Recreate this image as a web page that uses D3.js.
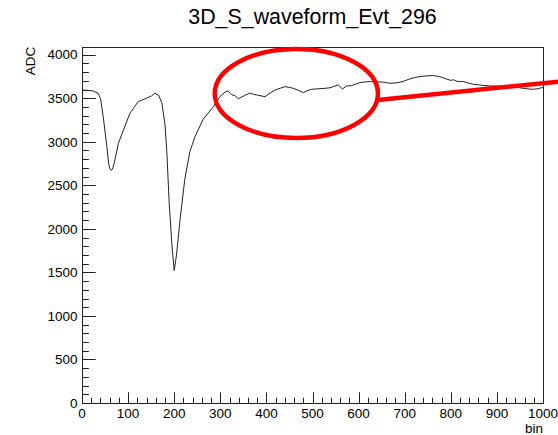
<!DOCTYPE html>
<html>
	<head>
		<meta charset="utf-8">
		<script src="https://cdnjs.cloudflare.com/ajax/libs/d3/7.8.5/d3.min.js" charset="utf-8"></script>
		<style>
			body { margin: 0; background: #fff; }
			svg text { font-family: 'Liberation Sans', Arial, sans-serif; fill: #000; }
		</style>
	</head>
	<body>
		<div id="chart"></div>
		<script>
			//////////////////////////////// Data ////////////////////////////////
			var title = "3D_S_waveform_Evt_296";
			var bins = [0, 10, 24, 35, 40, 46, 54, 58, 61, 64, 67, 70, 79, 90, 104, 122, 140, 151, 158, 166, 173, 180,
				184, 189, 195, 200, 205, 213, 223, 234, 245, 263, 285, 299, 310, 317, 325, 332, 339, 352, 364, 372,
				379, 397, 408, 419, 430, 440, 450, 458, 470, 480, 490, 498, 512, 527, 537, 545, 556, 565, 574, 585,
				595, 603, 615, 628, 641, 654, 668, 679, 690, 700, 711, 722, 733, 748, 762, 772, 780, 790, 800, 806,
				813, 820, 826, 835, 849, 865, 885, 900, 921, 940, 957, 970, 979, 990, 997, 1000];
			var adc = [3595, 3592, 3584, 3557, 3500, 3289, 2944, 2740, 2685, 2672, 2700, 2760, 2983, 3136, 3328, 3461, 3500, 3527, 3557, 3538, 3450, 3200,
				2886, 2312, 1815, 1520, 1700, 2121, 2570, 2886, 3059, 3260, 3403, 3518, 3570, 3584, 3540, 3530, 3493, 3530, 3560, 3545,
				3538, 3518, 3560, 3595, 3615, 3633, 3625, 3614, 3590, 3565, 3590, 3603, 3608, 3614, 3620, 3633, 3653, 3607, 3641, 3645,
				3665, 3680, 3688, 3691, 3688, 3684, 3672, 3675, 3684, 3700, 3722, 3738, 3749, 3757, 3760, 3752, 3741, 3722, 3705, 3712,
				3696, 3690, 3694, 3678, 3661, 3650, 3641, 3640, 3637, 3628, 3614, 3606, 3603, 3610, 3622, 3620];
			var xTicks = [0, 100, 200, 300, 400, 500, 600, 700, 800, 900, 1000];
			var yTicks = [0, 500, 1000, 1500, 2000, 2500, 3000, 3500, 4000];
			// red annotation: ellipse (centre bin, centre ADC, half-width bins, half-height ADC) and pointer line
			var ringCentre = [465, 3555];
			var ringRadii = [177, 511];
			var pointerBins = [642, 1033];
			var pointerAdc = [3480, 3691];

			var W = 558, H = 435;
			var frame = { left: 82, right: 543, top: 46.7, bottom: 403 };

			var svg = d3.select("#chart").append("svg")
				.attr("width", W)
				.attr("height", H);

			var x = d3.scaleLinear().domain([0, 1000]).range([frame.left, frame.right]);
			var y = d3.scaleLinear().domain([0, 4092]).range([frame.bottom, frame.top]);

			//frame
			svg.append("rect")
				.attr("x", frame.left + 0.5)
				.attr("y", Math.round(frame.top) + 0.5)
				.attr("width", frame.right - frame.left)
				.attr("height", frame.bottom - Math.round(frame.top))
				.attr("fill", "none")
				.attr("stroke", "#222")
				.attr("stroke-width", 1);

			//x ticks (major 100, minor 20)
			var xMinor = d3.range(0, 1001, 20);
			svg.append("g").selectAll("line")
				.data(xMinor)
				.enter().append("line")
				.attr("x1", function(d) { return Math.round(x(d)) + 0.5; })
				.attr("x2", function(d) { return Math.round(x(d)) + 0.5; })
				.attr("y1", frame.bottom)
				.attr("y2", function(d) { return frame.bottom - (d % 100 === 0 ? 10.7 : 5.3); })
				.attr("stroke", "#222");

			//y ticks (major 500, minor 100)
			var yMinor = d3.range(0, 4001, 100);
			svg.append("g").selectAll("line")
				.data(yMinor)
				.enter().append("line")
				.attr("y1", function(d) { return Math.round(y(d)) + 0.5; })
				.attr("y2", function(d) { return Math.round(y(d)) + 0.5; })
				.attr("x1", frame.left)
				.attr("x2", function(d) { return frame.left + (d % 500 === 0 ? 13.8 : 6.9); })
				.attr("stroke", "#222");

			//tick labels
			svg.append("g").selectAll("text")
				.data(xTicks)
				.enter().append("text")
				.attr("x", function(d) { return x(d); })
				.attr("y", 417.5)
				.attr("text-anchor", "middle")
				.style("font-size", "13.5px")
				.text(function(d) { return d; });

			svg.append("g").selectAll("text")
				.data(yTicks)
				.enter().append("text")
				.attr("x", 77.5)
				.attr("y", function(d) { return y(d); })
				.attr("dy", "0.35em")
				.attr("text-anchor", "end")
				.style("font-size", "13.5px")
				.text(function(d) { return d; });

			//axis titles
			svg.append("text")
				.attr("transform", "translate(35," + frame.top + ") rotate(-90)")
				.attr("text-anchor", "end")
				.style("font-size", "13.5px")
				.text("ADC");

			svg.append("text")
				.attr("x", frame.right)
				.attr("y", 432.5)
				.attr("text-anchor", "end")
				.style("font-size", "13.5px")
				.text("bin");

			//title
			svg.append("text")
				.attr("x", (frame.left + frame.right) / 2)
				.attr("y", 24)
				.attr("text-anchor", "middle")
				.style("font-size", "21.4px")
				.text(title);

			//waveform
			var line = d3.line()
				.x(function(d) { return x(d[0]); })
				.y(function(d) { return y(d[1]); });

			svg.append("path")
				.datum(d3.zip(bins, adc))
				.attr("d", line)
				.attr("fill", "none")
				.attr("stroke", "#222")
				.attr("stroke-width", 1)
				.attr("stroke-linejoin", "round");

			//red annotation
			svg.append("ellipse")
				.attr("cx", x(ringCentre[0]))
				.attr("cy", y(ringCentre[1]))
				.attr("rx", x(ringRadii[0]) - x(0))
				.attr("ry", y(0) - y(ringRadii[1]))
				.attr("fill", "none")
				.attr("stroke", "#ff0000")
				.attr("stroke-width", 4.5);

			svg.append("line")
				.attr("x1", x(pointerBins[0]))
				.attr("y1", y(pointerAdc[0]))
				.attr("x2", x(pointerBins[1]))
				.attr("y2", y(pointerAdc[1]))
				.attr("stroke", "#ff0000")
				.attr("stroke-width", 4.5);
		</script>
	</body>
</html>
